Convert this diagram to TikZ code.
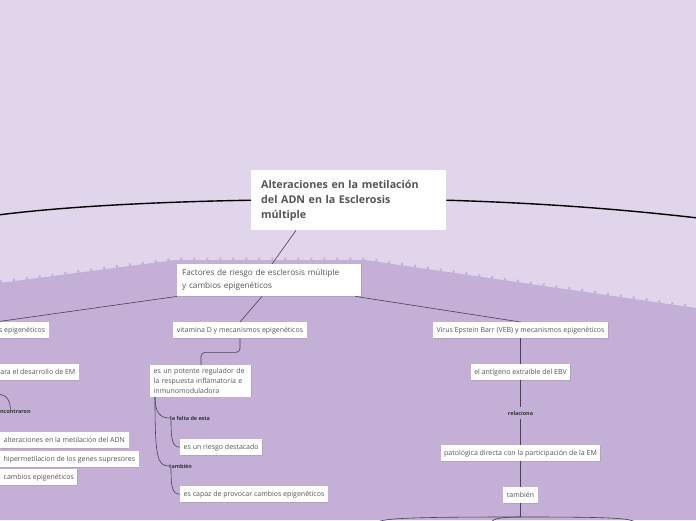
\documentclass[tikz,border=0pt]{standalone}
\usepackage{fontspec}
\setmainfont{Open Sans}
\usepackage{xcolor}
\usetikzlibrary{positioning}
\usetikzlibrary{shadows}

\definecolor{bgtop}{HTML}{E0D5EA}
\definecolor{bgbot}{HTML}{C4B0D6}
\definecolor{boxtext}{HTML}{555555}
\definecolor{linkcol}{HTML}{4A3F55}

\begin{document}
\begin{tikzpicture}[x=1pt,y=-1pt,
  topic/.style={fill=white,text=boxtext,inner xsep=3.5pt,inner ysep=2pt,minimum height=16pt,
    font=\fontsize{7}{9.5}\selectfont,
    drop shadow={shadow xshift=0.6pt,shadow yshift=-0.8pt,opacity=0.25}},
  tag/.style={inner sep=0pt,text=black!80,font=\fontsize{5.4}{6}\selectfont\bfseries},
  link/.style={draw=linkcol,line width=0.6pt},
  mainlink/.style={draw=black,line width=1.4pt}]
\useasboundingbox (0,0) rectangle (696,520);
% background bands
\fill[bgtop] (0,0) rectangle (696,520);
\fill[bgbot] (0,283) -- (175,260) -- (365,260) -- (696,308) -- (696,520) -- (0,520) -- cycle;
\draw[bgbot,line width=3pt,dash pattern=on 2pt off 11pt] (0,282) -- (175,259) -- (365,259) -- (696,307);

% central topic
\node[fill=white,text=boxtext,anchor=north west,minimum height=60pt,text width=175pt,inner xsep=10pt,
  align=left,font=\fontsize{10.7}{15}\selectfont\bfseries] (title) at (251,170)
  {Alteraciones en la metilación\\del ADN en la Esclerosis\\múltiple};
\coordinate (offL) at (-2,215);
\coordinate (offR) at (698,218);
\draw[mainlink] (title.west) .. controls (150,202) and (60,207) .. (offL);
\draw[mainlink] (title.east) .. controls (540,203) and (620,209) .. (offR);

\node[topic,anchor=north west,text width=174pt,inner xsep=5pt,minimum height=32pt,align=left,
  font=\fontsize{8.2}{13}\selectfont] (fact) at (177,264)
  {Factores de riesgo de esclerosis múltiple\\y cambios epigenéticos};
\draw[link] ([xshift=45pt]title.south west) -- ([xshift=95pt]fact.north west);

% second level
\node[topic,anchor=north east] (sepi) at (49,322) {s epigenéticos};
\node[topic,anchor=north] (vit) at (240,322) {vitamina D y mecanismos epigenéticos};
\node[topic,anchor=north] (virus) at (520.5,322) {Virus Epstein Barr (VEB) y mecanismos epigenéticos};
\draw[link] (fact.south west) -- (sepi.north west);
\draw[link] ([xshift=85pt]fact.south west) -- (vit.north);
\draw[link] ([xshift=-6pt]fact.south east) -- (virus.north);

% left branch
\node[topic,anchor=north east] (desa) at (79,364) {ara el desarrollo de EM};
\node[tag,anchor=west] (enc) at (0,412) {ncontraron};
\coordinate (encin) at (-4,394);
\draw[link] (encin) .. controls +(12,0) and +(0,-8) .. ([xshift=-5pt]enc.north);
\node[topic,anchor=north west] (alt) at (0,432) {alteraciones en la metilación del ADN};
\node[topic,anchor=north west] (hip) at (0,451) {hipermetilacion de los genes supresores};
\node[topic,anchor=north west] (camb) at (0,469) {cambios epigenéticos};

% vitamina D branch
\node[topic,anchor=north west,text width=94pt,align=left,inner ysep=3pt,
  font=\fontsize{7}{10}\selectfont] (reg) at (150,365)
  {es un potente regulador de\\la respuesta inflamatoria e\\inmunomoduladora};
\draw[link,rounded corners=4pt] (vit.south) -- ++(0,14) -| ([xshift=51pt]reg.north west);
\node[tag,anchor=west] (falta) at (170,418) {la falta de esta};
\node[tag,anchor=west] (tamb1) at (169,466) {también};
\draw[link] ([xshift=5pt]reg.south west) .. controls +(0,16) and +(-10,0) .. (falta.west);
\draw[link] ([xshift=5pt]reg.south west) .. controls +(0,60) and +(-12,0) .. (tamb1.west);
\node[topic,anchor=north west] (riesgo) at (180,439) {es un riesgo destacado};
\node[topic,anchor=north west] (capaz) at (180,486) {es capaz de provocar cambios epigenéticos};
\draw[link] ([xshift=1pt]falta.south west) .. controls +(0,18) and +(-8,0) .. (riesgo.west);
\draw[link] ([xshift=2pt]tamb1.south west) .. controls +(0,18) and +(-8,0) .. (capaz.west);

% Virus Epstein Barr branch
\node[topic,anchor=north] (ant) at (520.5,364) {el antígeno extraíble del EBV};
\node[tag] (rel) at (520.5,413) {relaciona};
\node[topic,anchor=north] (pat) at (520.5,445) {patológica directa con la participación de la EM};
\node[topic,anchor=north] (tamb2) at (520.5,487) {también};
\coordinate (fork) at (520.5,517);
\coordinate (offA) at (376,524);
\coordinate (offB) at (491,524);
\coordinate (offC) at (636,524);
\draw[link] (virus.south) -- (ant.north);
\draw[link] (ant.south) -- ([yshift=4pt]rel.north);
\draw[link] ([yshift=-4pt]rel.south) -- (pat.north);
\draw[link] (pat.south) -- (tamb2.north);
\draw[link,line width=1pt] (tamb2.south) -- (fork);
\draw[link] (fork) .. controls +(-110,0) and +(0,-6) .. (offA);
\draw[link] (fork) .. controls +(-22,0) and +(0,-5) .. (offB);
\draw[link] (fork) .. controls +(95,0) and +(0,-6) .. (offC);
\end{tikzpicture}
\end{document}
